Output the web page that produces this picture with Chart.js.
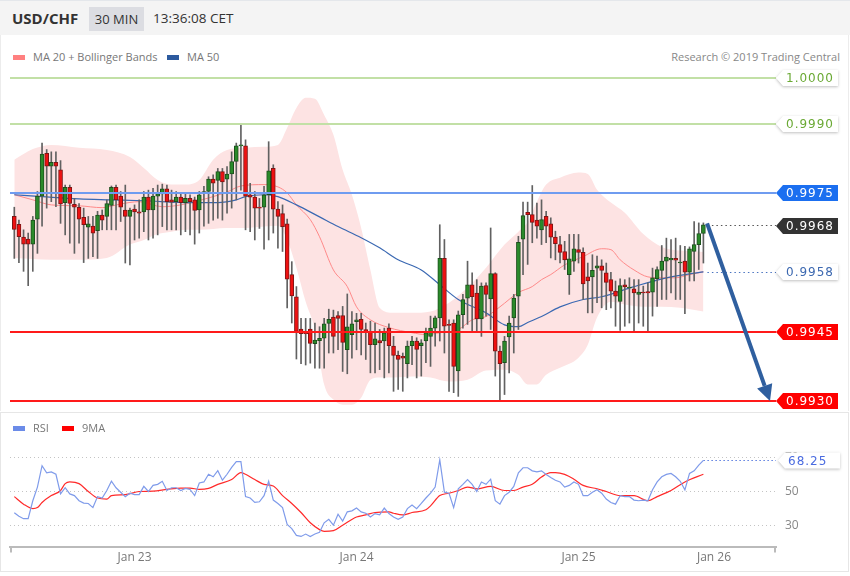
<!DOCTYPE html>
<html>
<head>
<meta charset="utf-8">
<script src="https://cdn.jsdelivr.net/npm/chart.js@4.4.1/dist/chart.umd.min.js"></script>
<style>
  body { margin: 0; background: #fff; font-family: "Open Sans", sans-serif; }
  #page { position: relative; width: 850px; height: 576px; overflow: hidden; }
  #head { position: absolute; left: 0; top: 0; width: 850px; height: 35px; background: #f4f4f4; border-top: 1px solid #e4e7eb; box-sizing: border-box; }
  .abs { position: absolute; white-space: nowrap; }
  .lg { font-size: 11px; color: #777; line-height: 16px; }
  .sw { position: absolute; width: 12px; height: 5px; }
  #mainBox { position: absolute; left: 0; top: 35px; width: 849px; height: 376px; border-left: 1px solid #ececec; border-right: 1px solid #ececec; box-sizing: border-box; }
  #rsiBox { position: absolute; left: 0; top: 412px; width: 849px; height: 160px; border: 1px solid #e6e6e6; box-sizing: border-box; }
  canvas { position: absolute; left: 0; }
</style>
</head>
<body>
<div id="page">
  <div id="head">
    <div class="abs" style="left:12px;top:7px;font-size:15px;font-weight:bold;color:#333;">USD/CHF</div>
    <div class="abs" style="left:89px;top:6px;width:55px;height:24px;line-height:24px;background:#dcdde2;text-align:center;font-size:13px;color:#333;">30 MIN</div>
    <div class="abs" style="left:153px;top:8px;font-size:13.5px;color:#333;">13:36:08 CET</div>
  </div>
  <div id="mainBox"></div>
  <div id="rsiBox"></div>
  <canvas id="mainChart" width="850" height="345" style="top:65px"></canvas>
  <canvas id="rsiChart" width="850" height="160" style="top:412px"></canvas>

  <div class="sw" style="left:13px;top:55px;background:#ff8080;"></div>
  <div class="abs lg" style="left:33px;top:49px;">MA 20 + Bollinger Bands</div>
  <div class="sw" style="left:167px;top:55px;background:#2c5a9e;"></div>
  <div class="abs lg" style="left:187px;top:49px;">MA 50</div>
  <div class="abs lg" style="right:10px;top:49px;color:#888;">Research © 2019 Trading Central</div>

  <div class="sw" style="left:13px;top:426px;background:#6b8be8;"></div>
  <div class="abs lg" style="left:33px;top:420px;">RSI</div>
  <div class="sw" style="left:62px;top:426px;background:#ff0000;"></div>
  <div class="abs lg" style="left:82px;top:420px;">9MA</div>
</div>
<script>
// 30 min candles, USD/CHF
const openP = [0.99700,0.99683,0.99655,0.99651,0.99640,0.99694,0.99744,0.99837,0.99809,0.99817,
  0.99801,0.99730,0.99763,0.99726,0.99720,0.99698,0.99677,0.99679,0.99669,0.99703,
  0.99700,0.99724,0.99763,0.99744,0.99714,0.99700,0.99716,0.99710,0.99710,0.99742,
  0.99714,0.99744,0.99749,0.99760,0.99736,0.99732,0.99742,0.99730,0.99739,0.99736,
  0.99714,0.99750,0.99754,0.99781,0.99778,0.99797,0.99781,0.99792,0.99819,0.99853,
  0.99853,0.99747,0.99742,0.99720,0.99720,0.99747,0.99804,0.99716,0.99706,0.99684,
  0.99574,0.99526,0.99456,0.99447,0.99456,0.99424,0.99431,0.99436,0.99468,0.99482,
  0.99485,0.99485,0.99411,0.99444,0.99472,0.99477,0.99455,0.99451,0.99422,0.99431,
  0.99430,0.99458,0.99419,0.99399,0.99397,0.99381,0.99420,0.99430,0.99420,0.99430,
  0.99440,0.99458,0.99480,0.99609,0.99466,0.99469,0.99365,0.99487,0.99523,0.99552,
  0.99534,0.99478,0.99550,0.99521,0.99576,0.99408,0.99383,0.99439,0.99480,0.99527,
  0.99651,0.99709,0.99704,0.99692,0.99671,0.99700,0.99684,0.99655,0.99639,0.99624,
  0.99574,0.99603,0.99628,0.99622,0.99569,0.99569,0.99588,0.99593,0.99578,0.99563,
  0.99538,0.99516,0.99552,0.99545,0.99543,0.99531,0.99536,0.99537,0.99536,0.99565,
  0.99583,0.99603,0.99606,0.99609,0.99599,0.99603,0.99579,0.99624,0.99639,0.99663];
const highP = [0.99720,0.99692,0.99671,0.99664,0.99700,0.99754,0.99859,0.99845,0.99840,0.99840,
  0.99821,0.99768,0.99768,0.99739,0.99728,0.99718,0.99700,0.99700,0.99711,0.99714,
  0.99736,0.99766,0.99768,0.99754,0.99768,0.99718,0.99725,0.99736,0.99754,0.99757,
  0.99761,0.99768,0.99770,0.99768,0.99757,0.99754,0.99752,0.99750,0.99747,0.99742,
  0.99754,0.99765,0.99786,0.99790,0.99804,0.99804,0.99808,0.99840,0.99859,0.99898,
  0.99866,0.99772,0.99754,0.99739,0.99765,0.99862,0.99812,0.99732,0.99725,0.99694,
  0.99602,0.99548,0.99479,0.99479,0.99479,0.99469,0.99461,0.99479,0.99499,0.99497,
  0.99494,0.99505,0.99532,0.99494,0.99490,0.99490,0.99469,0.99473,0.99469,0.99455,
  0.99458,0.99467,0.99440,0.99408,0.99404,0.99430,0.99440,0.99437,0.99433,0.99458,
  0.99484,0.99484,0.99682,0.99650,0.99476,0.99476,0.99495,0.99531,0.99603,0.99578,
  0.99563,0.99556,0.99556,0.99675,0.99578,0.99419,0.99440,0.99484,0.99531,0.99657,
  0.99731,0.99731,0.99767,0.99729,0.99736,0.99711,0.99697,0.99668,0.99657,0.99646,
  0.99661,0.99661,0.99661,0.99632,0.99599,0.99617,0.99614,0.99606,0.99599,0.99579,
  0.99560,0.99565,0.99563,0.99567,0.99563,0.99563,0.99549,0.99556,0.99588,0.99591,
  0.99637,0.99653,0.99650,0.99653,0.99637,0.99635,0.99634,0.99689,0.99686,0.99686];
const lowP = [0.99609,0.99600,0.99581,0.99550,0.99581,0.99620,0.99679,0.99718,0.99732,0.99721,
  0.99685,0.99660,0.99642,0.99620,0.99642,0.99600,0.99609,0.99613,0.99609,0.99671,
  0.99671,0.99671,0.99671,0.99689,0.99599,0.99595,0.99649,0.99653,0.99667,0.99649,
  0.99653,0.99660,0.99678,0.99671,0.99671,0.99671,0.99660,0.99667,0.99660,0.99640,
  0.99664,0.99679,0.99685,0.99692,0.99696,0.99692,0.99707,0.99718,0.99736,0.99757,
  0.99671,0.99667,0.99649,0.99674,0.99629,0.99649,0.99664,0.99631,0.99624,0.99502,
  0.99469,0.99391,0.99381,0.99378,0.99382,0.99371,0.99371,0.99371,0.99404,0.99404,
  0.99411,0.99364,0.99359,0.99393,0.99411,0.99400,0.99390,0.99361,0.99361,0.99368,
  0.99350,0.99361,0.99321,0.99325,0.99321,0.99350,0.99379,0.99350,0.99354,0.99383,
  0.99375,0.99419,0.99430,0.99404,0.99321,0.99318,0.99310,0.99458,0.99466,0.99448,
  0.99451,0.99440,0.99484,0.99455,0.99354,0.99303,0.99314,0.99361,0.99404,0.99455,
  0.99574,0.99596,0.99643,0.99653,0.99639,0.99643,0.99610,0.99606,0.99599,0.99585,
  0.99531,0.99581,0.99599,0.99520,0.99491,0.99491,0.99513,0.99502,0.99498,0.99502,
  0.99462,0.99453,0.99462,0.99469,0.99451,0.99469,0.99462,0.99451,0.99484,0.99505,
  0.99520,0.99520,0.99534,0.99520,0.99520,0.99489,0.99560,0.99560,0.99585,0.99599];
const closeP = [0.99672,0.99656,0.99640,0.99640,0.99692,0.99744,0.99835,0.99809,0.99817,0.99809,
  0.99727,0.99763,0.99728,0.99720,0.99694,0.99682,0.99684,0.99664,0.99703,0.99692,
  0.99728,0.99763,0.99736,0.99720,0.99700,0.99714,0.99710,0.99707,0.99742,0.99714,
  0.99744,0.99749,0.99760,0.99732,0.99731,0.99742,0.99730,0.99739,0.99732,0.99713,
  0.99747,0.99754,0.99781,0.99772,0.99797,0.99775,0.99792,0.99819,0.99853,0.99855,
  0.99744,0.99742,0.99718,0.99718,0.99747,0.99799,0.99716,0.99700,0.99678,0.99564,
  0.99528,0.99451,0.99446,0.99446,0.99425,0.99432,0.99436,0.99467,0.99477,0.99440,
  0.99479,0.99427,0.99461,0.99467,0.99476,0.99455,0.99449,0.99422,0.99435,0.99426,
  0.99448,0.99420,0.99399,0.99390,0.99393,0.99419,0.99430,0.99412,0.99426,0.99448,
  0.99458,0.99480,0.99609,0.99462,0.99464,0.99375,0.99487,0.99520,0.99552,0.99526,
  0.99478,0.99549,0.99531,0.99576,0.99408,0.99381,0.99430,0.99469,0.99523,0.99644,
  0.99702,0.99704,0.99687,0.99679,0.99693,0.99679,0.99655,0.99641,0.99622,0.99606,
  0.99608,0.99630,0.99622,0.99554,0.99560,0.99583,0.99593,0.99583,0.99557,0.99538,
  0.99527,0.99550,0.99547,0.99547,0.99534,0.99536,0.99534,0.99534,0.99567,0.99585,
  0.99603,0.99612,0.99609,0.99605,0.99600,0.99579,0.99630,0.99639,0.99663,0.99682];

// Bollinger bands (read at these candle indexes)
const bandIdx = [0,4,8,14,20,25,28,31,34,37,40,43,46,50,54,57,59,61,63,65,67,69,71,73,75,77,79,82,86,90,94,98,102,106,109,111,113,115,118,122,124,126,129,132,136,140,144,149];
const bandUpper = [0.99823,0.99846,0.99855,0.99849,0.99844,0.99829,0.99805,0.99779,0.99769,0.99769,
  0.99779,0.99823,0.99844,0.99849,0.99851,0.99855,0.99892,0.99935,0.99957,0.99955,
  0.99920,0.99877,0.99801,0.99747,0.99675,0.99584,0.99502,0.99491,0.99491,0.99494,
  0.99513,0.99546,0.99589,0.99639,0.99667,0.99688,0.99732,0.99769,0.99784,0.99795,
  0.99792,0.99758,0.99730,0.99708,0.99662,0.99634,0.99626,0.99623];
const bandLower = [0.99610,0.99608,0.99606,0.99606,0.99610,0.99639,0.99649,0.99662,0.99667,0.99671,
  0.99671,0.99673,0.99675,0.99675,0.99678,0.99680,0.99649,0.99589,0.99515,0.99455,
  0.99336,0.99303,0.99292,0.99292,0.99307,0.99346,0.99351,0.99351,0.99353,0.99351,
  0.99342,0.99346,0.99366,0.99368,0.99357,0.99336,0.99336,0.99357,0.99372,0.99394,
  0.99422,0.99481,0.99515,0.99509,0.99504,0.99504,0.99502,0.99494];

const ma20Idx = [0,4,8,14,19,23,27,32,36,39,42,46,49,54,57,59,61,64,66,69,72,74,77,81,86,89,92,96,99,102,105,109,112,114,116,119,123,127,129,131,134,137,140,143,146,149];
const ma20Val = [0.99747,0.99736,0.99725,0.99723,0.99719,0.99727,0.99732,0.99721,0.99725,0.99732,
  0.99740,0.99753,0.99766,0.99769,0.99764,0.99751,0.99725,0.99693,0.99656,0.99584,
  0.99548,0.99504,0.99476,0.99459,0.99448,0.99444,0.99448,0.99455,0.99476,0.99483,
  0.99504,0.99535,0.99548,0.99563,0.99574,0.99595,0.99613,0.99630,0.99628,0.99606,
  0.99584,0.99569,0.99567,0.99567,0.99574,0.99580];

const ma50Idx = [0,6,14,21,28,38,44,48,50,54,57,61,66,70,75,79,83,88,92,96,102,106,109,111,114,118,123,127,134,141,149];
const ma50Val = [0.99747,0.99743,0.99738,0.99736,0.99734,0.99730,0.99730,0.99736,0.99743,0.99747,
  0.99743,0.99725,0.99699,0.99678,0.99654,0.99632,0.99606,0.99584,0.99552,0.99520,
  0.99491,0.99465,0.99461,0.99470,0.99483,0.99504,0.99520,0.99526,0.99548,0.99567,0.99580];

const levelValues = [1.0000, 0.9990, 0.9975, 0.9945, 0.9930];
const levelColors = ['#c2e0a6', '#c2e0a6', '#6f9cf0', '#ff1a1a', '#ff1a1a'];
const tagValues = [1.0000, 0.9990, 0.9975, 0.9968, 0.9958, 0.9945, 0.9930];
const tagStyles = [
  ['#ffffff', '#6aa934', true], ['#ffffff', '#6aa934', true], ['#1b6ff0', '#ffffff', false],
  ['#333333', '#ffffff', false], ['#ffffff', '#3c68b0', true], ['#ff0000', '#ffffff', false],
  ['#ff0000', '#ffffff', false]
];
const arrowFrom = [149.8, 0.99685];
const arrowTo = [163.4, 0.99300];

// RSI panel
const rsiVal = [37.6,35.5,34.1,34.1,44.6,52.6,65.1,60.9,61.5,60.1,
  48.6,52.2,48.6,47.6,44.6,43.2,43.0,40.6,47.0,46.2,
  50.6,56.0,52.2,49.6,47.0,49.0,48.2,48.2,53.0,50.0,
  53.6,54.2,56.0,50.6,52.2,52.2,50.6,51.8,51.2,47.6,
  55.0,55.6,60.1,58.6,62.2,56.6,60.1,64.1,67.5,67.5,
  47.0,46.2,43.6,44.0,47.6,56.0,45.0,43.0,40.6,30.7,
  28.3,24.3,23.7,25.1,23.7,25.1,26.1,31.7,33.7,30.3,
  36.7,32.7,38.1,38.7,40.3,38.1,37.3,35.1,37.1,36.3,
  40.3,37.1,35.1,33.7,35.1,40.0,42.1,40.0,43.0,46.2,
  49.0,52.6,68.5,49.6,49.0,40.6,51.6,54.2,57.0,54.2,
  50.0,55.6,54.2,57.2,44.6,42.6,47.6,49.6,53.0,61.0,
  63.9,63.9,62.1,61.5,62.1,60.0,58.2,56.6,55.6,52.6,
  53.6,55.6,54.2,47.6,47.6,49.6,51.0,49.0,45.6,43.6,
  42.6,47.6,47.0,47.0,45.0,44.6,45.0,44.6,51.0,55.6,
  58.6,60.0,60.6,58.6,56.0,51.0,60.6,62.1,65.5,68.25];
const ma9Idx = [0,2,4,5,6,8,10,11,12,14,16,18,20,21,24,27,30,33,36,38,40,42,44,47,49,50,52,54,56,58,60,62,64,66,67,69,71,74,76,78,81,82,84,86,89,90,92,94,96,98,100,103,106,108,110,112,114,116,117,119,121,123,126,128,131,134,137,139,142,145,149];
const ma9Val = [47,42.6,40,40.6,43.6,47.6,50.6,54.6,55.6,54.6,50,46.2,45.6,47.6,48.2,50,50.2,51.2,52,52,
  51.2,51.8,54.2,57,61,60.1,57,54.2,53.2,47.6,43,37.7,31.7,27.7,26.7,27.1,30.3,35.1,36.3,37.7,
  38.1,37.3,36.3,37.7,39.3,41.6,47.6,49,50.6,52.6,51.6,53,50.6,50.6,52.6,54.2,58.5,61,61,60,
  57.2,53.6,51.6,50,47.6,47.6,44.6,47,50.6,55.6,60.1];
const rsiGrid = [30, 50, 70];
const tickPos = [26, 74, 122, 151.3];
const tickText = ['Jan 23', 'Jan 24', 'Jan 25', 'Jan 26'];

const xMin = -0.93, xMax = 164.7;

Chart.defaults.font.family = '"Open Sans", sans-serif';

const pts = (xs, ys) => xs.map((x, k) => ({ x: x, y: ys[k] }));
const up = closeP.map((c, i) => c >= openP[i]);

function drawTag(ctx, x, y, text, fill, color, shadow) {
  const h = 16, w = 62;
  ctx.save();
  if (shadow) {
    ctx.shadowColor = 'rgba(0,0,0,0.25)';
    ctx.shadowBlur = 3;
    ctx.shadowOffsetY = 1;
  }
  ctx.beginPath();
  ctx.moveTo(x, y);
  ctx.lineTo(x + 7, y - h / 2);
  ctx.lineTo(x + w, y - h / 2);
  ctx.lineTo(x + w, y + h / 2);
  ctx.lineTo(x + 7, y + h / 2);
  ctx.closePath();
  ctx.fillStyle = fill;
  ctx.fill();
  ctx.restore();
  ctx.save();
  ctx.fillStyle = color;
  ctx.font = '12px "DejaVu Sans"';
  ctx.letterSpacing = '1px';
  ctx.textBaseline = 'middle';
  ctx.fillText(text, x + 10, y + 1);
  ctx.restore();
}

const mainExtras = {
  id: 'mainExtras',
  afterDatasetsDraw(chart) {
    const { ctx, chartArea: a, scales: { x, y } } = chart;
    ctx.save();
    levelValues.forEach((v, k) => {
      const py = Math.round(y.getPixelForValue(v));
      ctx.strokeStyle = levelColors[k];
      ctx.lineWidth = 2;
      ctx.beginPath();
      ctx.moveTo(a.left, py);
      ctx.lineTo(a.right, py);
      ctx.stroke();
    });
    // dotted guides from last candle / last MA50 to the tags
    const lastX = x.getPixelForValue(closeP.length - 1) + 4;
    [[closeP[closeP.length - 1], '#555'], [ma50Val[ma50Val.length - 1], '#4a74c0']].forEach(([v, c]) => {
      const py = Math.round(y.getPixelForValue(v)) + 0.5;
      ctx.strokeStyle = c;
      ctx.lineWidth = 1;
      ctx.setLineDash([1.5, 3]);
      ctx.beginPath();
      ctx.moveTo(lastX, py);
      ctx.lineTo(a.right, py);
      ctx.stroke();
    });
    ctx.setLineDash([]);
    // target arrow
    const x0 = x.getPixelForValue(arrowFrom[0]), y0 = y.getPixelForValue(arrowFrom[1]);
    const x1 = x.getPixelForValue(arrowTo[0]), y1 = y.getPixelForValue(arrowTo[1]);
    const ang = Math.atan2(y1 - y0, x1 - x0);
    const headL = 16, headW = 8;
    const bx = x1 - headL * Math.cos(ang), by = y1 - headL * Math.sin(ang);
    ctx.strokeStyle = '#2f5f9f';
    ctx.fillStyle = '#2f5f9f';
    ctx.lineWidth = 4;
    ctx.beginPath();
    ctx.moveTo(x0, y0);
    ctx.lineTo(bx, by);
    ctx.stroke();
    ctx.beginPath();
    ctx.moveTo(x1, y1);
    ctx.lineTo(bx + headW * Math.sin(ang), by - headW * Math.cos(ang));
    ctx.lineTo(bx - headW * Math.sin(ang), by + headW * Math.cos(ang));
    ctx.closePath();
    ctx.fill();
    ctx.restore();
  },
  afterDraw(chart) {
    const { ctx, chartArea: a, scales: { y } } = chart;
    tagValues.forEach((v, k) => {
      const s = tagStyles[k];
      drawTag(ctx, a.right, Math.round(y.getPixelForValue(v)), v.toFixed(4), s[0], s[1], s[2]);
    });
  }
};

new Chart(document.getElementById('mainChart'), {
  type: 'bar',
  data: {
    datasets: [
      {
        type: 'line', data: pts(bandIdx, bandUpper), borderWidth: 0, pointRadius: 0,
        fill: '+1', backgroundColor: '#fde3e3', cubicInterpolationMode: 'monotone', order: 20
      },
      {
        type: 'line', data: pts(bandIdx, bandLower), borderWidth: 0, pointRadius: 0,
        fill: false, cubicInterpolationMode: 'monotone', order: 21
      },
      {
        type: 'line', data: pts(ma20Idx, ma20Val), borderColor: '#ff8a8a', borderWidth: 1,
        pointRadius: 0, fill: false, cubicInterpolationMode: 'monotone', order: 6
      },
      {
        type: 'line', data: pts(ma50Idx, ma50Val), borderColor: '#3a68b2', borderWidth: 1.2,
        pointRadius: 0, fill: false, cubicInterpolationMode: 'monotone', order: 5
      },
      {
        data: closeP.map((c, i) => ({ x: i, y: [lowP[i], highP[i]] })),
        backgroundColor: '#616161', barThickness: 1, grouped: false, order: 2
      },
      {
        data: closeP.map((c, i) => ({ x: i, y: [openP[i], c] })),
        backgroundColor: up.map(u => u ? '#2a8a2a' : '#ee1111'),
        borderColor: up.map(u => u ? '#1c4f1c' : '#7d1616'),
        borderWidth: 1, borderSkipped: false, barThickness: 4, minBarLength: 1,
        grouped: false, order: 1
      }
    ]
  },
  options: {
    responsive: false,
    animation: false,
    layout: { padding: { left: 10, right: 74, top: 0, bottom: 0 } },
    plugins: { legend: { display: false }, tooltip: { enabled: false } },
    scales: {
      x: { type: 'linear', min: xMin, max: xMax, offset: false, display: false },
      y: { type: 'linear', min: 0.992805, max: 1.000282, display: false }
    }
  },
  plugins: [mainExtras]
});

const rsiExtras = {
  id: 'rsiExtras',
  afterDraw(chart) {
    const { ctx, chartArea: a, scales: { x, y } } = chart;
    const last = rsiVal[rsiVal.length - 1];
    const py = Math.round(y.getPixelForValue(last)) + 0.5;
    ctx.save();
    // small end marks on the time axis
    ctx.strokeStyle = '#bbbbbb';
    ctx.lineWidth = 2;
    ctx.beginPath();
    ctx.moveTo(a.left + 1, a.bottom);
    ctx.lineTo(a.left + 1, a.bottom + 6);
    ctx.moveTo(a.right - 1, a.bottom);
    ctx.lineTo(a.right - 1, a.bottom + 6);
    ctx.stroke();
    ctx.strokeStyle = '#5b7de0';
    ctx.lineWidth = 1;
    ctx.setLineDash([1.5, 2.5]);
    ctx.beginPath();
    ctx.moveTo(x.getPixelForValue(rsiVal.length - 1), py);
    ctx.lineTo(a.right, py);
    ctx.stroke();
    ctx.restore();
    drawTag(ctx, a.right + 2, py, last.toFixed(2), '#ffffff', '#4a6be0', true);
  }
};

new Chart(document.getElementById('rsiChart'), {
  type: 'line',
  data: {
    datasets: [
      {
        data: rsiVal.map((v, i) => ({ x: i, y: v })), borderColor: '#7f9bea', borderWidth: 1.2,
        pointRadius: 0, fill: false, tension: 0
      },
      {
        data: pts(ma9Idx, ma9Val), borderColor: '#ff2a2a', borderWidth: 1.2,
        pointRadius: 0, fill: false, cubicInterpolationMode: 'monotone'
      }
    ]
  },
  options: {
    responsive: false,
    animation: false,
    layout: { padding: { left: 10, right: 0, top: 28, bottom: 3 } },
    plugins: { legend: { display: false }, tooltip: { enabled: false } },
    scales: {
      x: {
        type: 'linear', min: xMin, max: xMax, offset: false,
        grid: { display: false, drawTicks: false },
        border: { display: true, color: '#bbbbbb', width: 2 },
        afterBuildTicks: s => { s.ticks = tickPos.map(v => ({ value: v })); },
        ticks: {
          autoSkip: false, maxRotation: 0, padding: 4, color: '#777', font: { size: 12 },
          callback: v => tickText[tickPos.indexOf(v)]
        }
      },
      y: {
        type: 'linear', position: 'right', min: 17.76, max: 80.15,
        grid: { color: '#c4c4c4', drawTicks: false },
        border: { display: false, dash: [1, 3] },
        afterBuildTicks: s => { s.ticks = rsiGrid.map(v => ({ value: v })); },
        afterFit: s => { s.width = 74; },
        ticks: { padding: 9, color: '#888', font: { size: 12 } }
      }
    }
  },
  plugins: [rsiExtras]
});
</script>
</body>
</html>
